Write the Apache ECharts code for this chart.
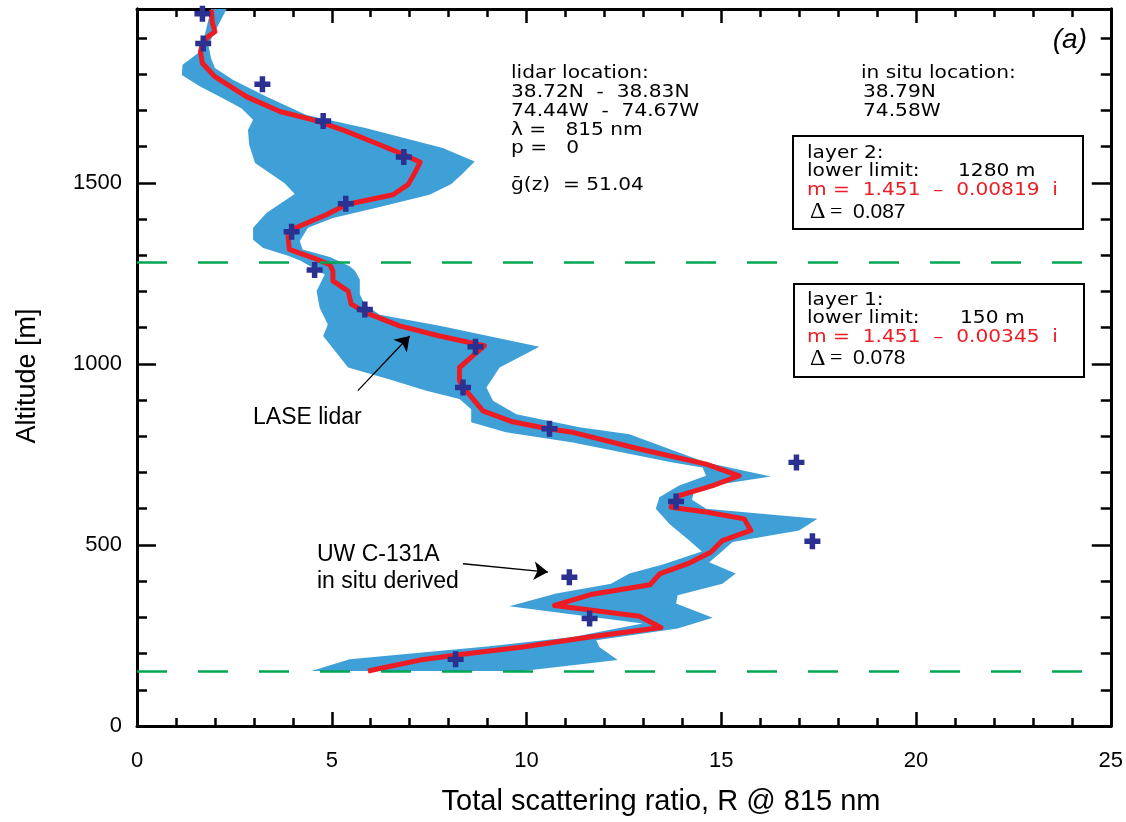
<!DOCTYPE html>
<html>
<head>
<meta charset="utf-8">
<script src="https://cdn.jsdelivr.net/npm/echarts@6/dist/echarts.min.js"></script>
<style>
html,body{margin:0;padding:0;background:#fff;}
#c{width:1126px;height:822px;}
</style>
</head>
<body>
<div id="c"></div>
<script>
// ---------------- data ----------------
const xRange = [0, 25];
const yRange = [0, 1980];
const xTickValues = [0, 5, 10, 15, 20, 25];
const yTickValues = [0, 500, 1000, 1500];

// LASE lidar profile: [R, altitude m]
const lidarProfile = [
  [1.91,1978],[1.93,1945],[2.00,1917],[1.83,1904],[1.68,1885],[1.63,1862],[1.68,1830],[2.00,1793],
  [2.81,1738],[3.67,1697],[4.52,1674],[4.86,1662],[5.38,1642],[6.23,1605],[6.85,1578],[7.27,1557],
  [7.13,1527],[6.96,1495],[6.57,1467],[5.38,1440],[4.86,1412],[3.97,1371],[3.88,1353],[3.91,1316],
  [4.52,1293],[4.95,1274],[5.03,1256],[5.03,1229],[5.42,1201],[5.50,1165],[5.89,1141],[6.74,1105],
  [7.77,1077],[8.92,1050],[8.62,1022],[8.28,990],[8.28,953],[8.45,926],[8.88,870],[9.61,841],
  [10.59,820],[11.19,811],[12.90,765],[14.61,723],[15.46,691],[14.78,664],[13.92,636],[13.71,604],
  [14.61,591],[15.59,572],[15.76,540],[15.03,512],[14.73,480],[14.18,450],[13.43,421],[13.17,390],
  [11.65,363],[10.72,333],[12.90,303],[13.45,272],[11.62,246],[9.90,218],[8.20,196],[7.26,182],[5.93,152]
];

// uncertainty band, left edge (bottom -> top)
const bandLeft = [
  [4.48,152],[5.46,184],[9.05,220],[11.19,246],[12.98,283],[9.56,331],[10.76,366],[12.17,393],
  [12.64,421],[13.50,446],[14.50,482],[14.18,512],[13.67,558],[13.32,600],[13.41,632],[13.92,664],
  [14.61,691],[14.52,714],[13.75,728],[11.19,783],[9.47,811],[8.58,839],[8.58,875],[8.28,903],
  [7.43,926],[6.49,957],[5.42,990],[4.78,1077],[4.90,1109],[4.69,1155],[4.61,1201],[4.82,1247],
  [4.20,1285],[3.90,1298],[3.24,1320],[2.98,1343],[2.98,1376],[3.33,1417],[4.05,1469],[3.79,1499],
  [3.03,1555],[2.88,1605],[2.85,1646],[2.98,1674],[2.68,1706],[2.13,1738],[1.62,1766],[1.15,1798],
  [1.17,1826],[1.65,1865],[1.74,1908],[1.90,1980]
];
// uncertainty band, right edge (top -> bottom)
const bandRight = [
  [2.30,1980],[2.00,1917],[1.83,1881],[1.90,1845],[2.00,1817],[2.47,1784],[3.33,1738],[4.35,1687],
  [5.89,1651],[7.85,1596],[8.67,1559],[8.33,1522],[8.07,1497],[7.51,1467],[6.15,1431],[5.03,1403],
  [4.39,1376],[4.18,1339],[4.25,1316],[4.95,1295],[5.45,1270],[5.59,1258],[5.72,1233],[5.72,1192],
  [5.85,1164],[6.23,1136],[7.77,1105],[10.33,1047],[9.31,990],[8.97,935],[9.14,898],[9.74,861],
  [11.36,825],[12.64,806],[14.61,728],[16.27,689],[14.78,664],[14.30,650],[14.25,625],[14.61,600],
  [17.47,572],[17.00,540],[15.29,508],[14.95,476],[14.69,452],[15.37,421],[15.03,393],[13.88,361],
  [13.84,338],[14.78,299],[13.88,269],[11.79,237],[11.87,218],[12.34,182],[9.90,152]
];

// UW C-131A in situ derived: [R, altitude m]
const inSitu = [
  [1.68,1967],[1.70,1885],[3.22,1772],[4.78,1671],[6.85,1571],[5.36,1442],[3.97,1365],[4.56,1259],
  [5.85,1150],[8.69,1047],[8.37,935],[10.59,821],[16.93,728],[13.84,620],[17.34,510],[11.10,411],
  [11.62,297],[8.18,184]
];

// layer lower limits (m)
const layerLimits = [1280, 150];

// annotation arrows [from, to] in data coords
const arrowLase = [[5.67,926],[7.00,1077]];
const arrowInSitu = [[8.37,448],[10.55,425]];

// ---------------- chart ----------------
const RED = '#ed1c24', BLUE_BAND = '#3f9fd7', CROSS = '#2b3190', GREEN = '#00a651';
const SANS = '"Liberation Sans", Arial, sans-serif';
const SERIF = '"Liberation Serif", "Times New Roman", serif';
const HERSHEY = '"DejaVu Sans", sans-serif';

const chart = echarts.init(document.getElementById('c'));
const bandOutline = bandLeft.concat(bandRight);

function ht(x, y, text, fill) {
  return {type:'text', x:x, y:y, scaleX:1.12, silent:true,
    style:{text:text, fontSize:18, fontFamily:HERSHEY, fill:fill||'#000', align:'left', verticalAlign:'middle'}};
}
function st(x, y, text, size, family, opts) {
  return Object.assign({type:'text', x:x, y:y, silent:true,
    style:Object.assign({text:text, fontSize:size, fontFamily:family||SANS, fill:'#000', align:'left', verticalAlign:'middle'}, (opts&&opts.style)||{})},
    (opts&&opts.el)||{});
}

const tickLine = {color:'#000', width:2.5};
const axisLine = {show:true, onZero:false, lineStyle:{color:'#000', width:3}};

function xAx(pos, labels) {
  return {type:'value', position:pos, min:xRange[0], max:xRange[1], interval:5,
    axisLine:axisLine, splitLine:{show:false}, minorSplitLine:{show:false},
    axisTick:{show:true, inside:true, length:14, lineStyle:tickLine},
    minorTick:{show:true, splitNumber:5, length:8, lineStyle:tickLine},
    axisLabel:{show:labels, margin:24, fontSize:22, fontFamily:SANS, color:'#000',
      formatter: v => xTickValues.includes(v) ? String(v) : ''}};
}
function yAx(pos, interval, len, labels) {
  return {type:'value', position:pos, min:yRange[0], max:yRange[1], interval:interval,
    axisLine:axisLine, splitLine:{show:false},
    axisTick:{show:true, inside:true, length:len, lineStyle:tickLine},
    axisLabel:{show:labels, margin:15, fontSize:22, fontFamily:SANS, color:'#000',
      formatter: v => yTickValues.includes(v) ? String(v) : ''}};
}

const option = {
  animation:false,
  backgroundColor:'#fff',
  grid:{left:137, right:14, top:9, bottom:96, containLabel:false},
  xAxis:[xAx('bottom', true), xAx('top', false)],
  yAxis:[yAx('left',500,19,true), yAx('left',100,10,false), yAx('right',500,19,false), yAx('right',100,10,false)],
  series:[
    {
      type:'custom', name:'band', z:1, silent:true, clip:true,
      xAxisIndex:0, yAxisIndex:0,
      data: bandOutline,
      renderItem: function(params, api){
        if (params.dataIndex !== 0) return null;
        const pts = bandOutline.map(p => api.coord(p));
        return {type:'polygon', shape:{points:pts}, style:{fill:BLUE_BAND, stroke:null}};
      }
    },
    {
      type:'line', name:'layers', z:2, data:[], silent:true,
      markLine:{silent:true, symbol:['none','none'], label:{show:false}, animation:false,
        emphasis:{disabled:true},
        lineStyle:{color:GREEN, width:2.5, type:[30,31]},
        data: layerLimits.map(v => ({yAxis:v}))}
    },
    {
      type:'line', name:'LASE lidar', z:3, data:lidarProfile, symbol:'none', showSymbol:false,
      silent:true, lineStyle:{color:RED, width:5, join:'round'}
    },
    {
      type:'scatter', name:'in situ', z:4, data:inSitu, silent:true,
      symbol:'path://M4.6,0H9.4V4.6H14V9.4H9.4V14H4.6V9.4H0V4.6H4.6Z', symbolSize:16,
      itemStyle:{color:CROSS, opacity:1}
    },
    {
      type:'line', name:'arrows', z:5, data:[], silent:true,
      markLine:{silent:true, symbol:['none','arrow'], symbolSize:14, label:{show:false}, animation:false,
        emphasis:{disabled:true},
        lineStyle:{color:'#000', width:1.3, type:'solid'},
        data:[
          [{coord:arrowLase[0]},{coord:arrowLase[1]}],
          [{coord:arrowInSitu[0]},{coord:arrowInSitu[1]}]
        ]}
    }
  ],
  graphic:[
    // axis titles
    st(661, 802, 'Total scattering ratio, R @ 815 nm', 29, SANS, {style:{align:'center'}}),
    st(28, 376, 'Altitude [m]', 27, SANS, {style:{align:'center'}, el:{rotation:Math.PI/2}}),
    // panel tag
    st(1087, 40, '(a)', 28, SANS, {style:{align:'right', fontStyle:'italic'}}),
    // lidar info
    ht(511, 73, 'lidar location:'),
    ht(511, 92, '38.72N  -  38.83N'),
    ht(511, 111, '74.44W  -  74.67W'),
    ht(511, 130, 'λ =   815 nm'),
    ht(511, 148.5, 'p =   0'),
    ht(511, 185, 'ḡ(z)  = 51.04'),
    // in situ info
    ht(861, 73, 'in situ location:'),
    ht(863, 92, '38.79N'),
    ht(863, 111, '74.58W'),
    // layer boxes
    {type:'rect', silent:true, shape:{x:793, y:136, width:290, height:93}, style:{fill:null, stroke:'#000', lineWidth:2}},
    {type:'rect', silent:true, shape:{x:794, y:284, width:290, height:93}, style:{fill:null, stroke:'#000', lineWidth:2}},
    ht(807, 153, 'layer 2:'),
    ht(807, 171.5, 'lower limit:'),
    ht(958, 171.5, '1280 m'),
    ht(807, 190.5, 'm =  1.451  –  0.00819  i', RED),
    st(810, 212, 'Δ', 24, SERIF),
    st(830, 212, '=', 22, SERIF),
    st(853, 212, '0.087', 21, SANS),
    ht(807, 300, 'layer 1:'),
    ht(807, 318.5, 'lower limit:'),
    ht(960, 318.5, '150 m'),
    ht(807, 337, 'm =  1.451  –  0.00345  i', RED),
    st(810, 358.5, 'Δ', 24, SERIF),
    st(830, 358.5, '=', 22, SERIF),
    st(853, 358.5, '0.078', 21, SANS),
    // annotations
    st(253, 417.5, 'LASE lidar', 23, SANS),
    st(317, 555, 'UW C-131A', 23, SANS),
    st(317, 581.5, 'in situ derived', 23, SANS)
  ]
};
chart.setOption(option);
</script>
</body>
</html>
